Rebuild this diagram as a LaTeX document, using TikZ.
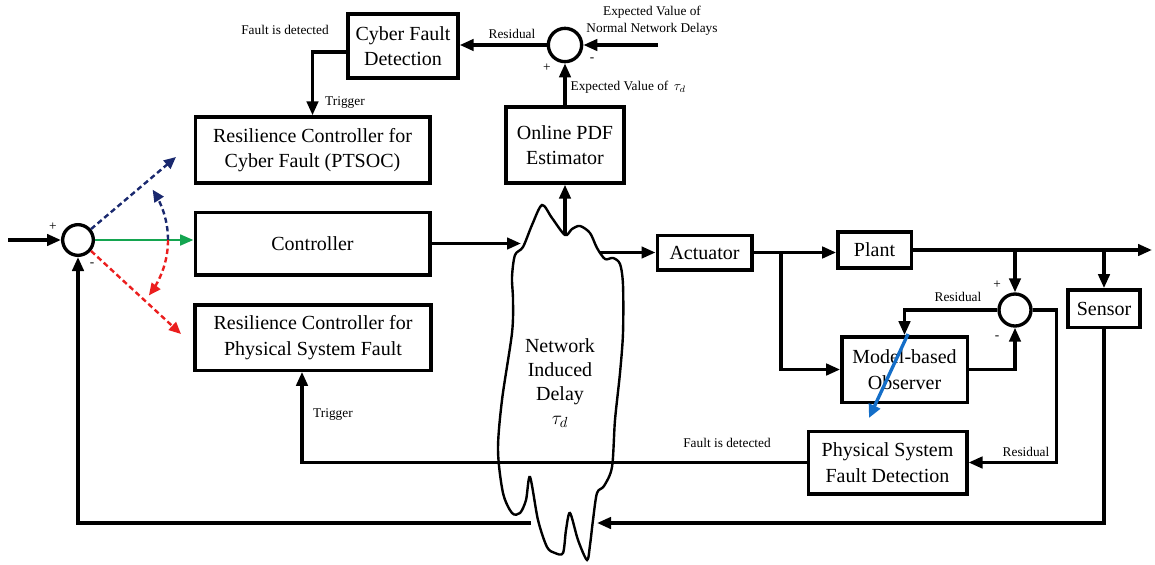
\documentclass[tikz,border=0pt]{standalone}
\usepackage{fontspec}
\setmainfont{Liberation Serif}
\usetikzlibrary{arrows.meta,calc}
\definecolor{navy}{RGB}{25,40,110}
\definecolor{redd}{RGB}{235,30,30}
\definecolor{grn}{RGB}{20,165,80}
\definecolor{obsblue}{RGB}{20,110,200}
\begin{document}
\begin{tikzpicture}[x=0.75pt,y=-0.75pt,
  blk/.style={draw,line width=2.5pt,align=center,inner sep=0pt,font=\fontsize{15}{19}\selectfont},
  sumc/.style={draw,circle,line width=2.5pt,inner sep=0pt},
  wire/.style={line width=2.5pt,-{Triangle[length=10.5pt,width=8.5pt]}},
  lbl/.style={font=\fontsize{10}{12}\selectfont,inner sep=1pt},
  sgn/.style={font=\fontsize{10}{12}\selectfont,inner sep=0pt},
  dsh/.style={line width=1.8pt,dash pattern=on 4pt off 2.5pt,-{Triangle[length=9pt,width=8pt]}}]
\useasboundingbox (0,0) rectangle (1155,564);

% boxes
\node[blk,minimum width=82.5pt,minimum height=48pt] (cfd) at (403,46) {Cyber Fault\\Detection};
\node[blk,minimum width=88.5pt,minimum height=57pt] (pdf) at (565,145) {Online PDF\\Estimator};
\node[blk,minimum width=176pt,minimum height=49.5pt] (rcc) at (312.5,150) {Resilience Controller for\\Cyber Fault (PTSOC)};
\node[blk,minimum width=176pt,minimum height=47pt] (ctrl) at (312.5,243.5) {Controller};
\node[blk,minimum width=177pt,minimum height=49pt] (rcp) at (313,337.5) {Resilience Controller for\\Physical System Fault};
\node[blk,minimum width=71pt,minimum height=26pt] (act) at (704.5,252.5) {Actuator};
\node[blk,minimum width=55pt,minimum height=27pt] (plant) at (874.5,250) {Plant};
\node[blk,minimum width=94pt,minimum height=49pt] (obs) at (904.5,369.5) {Model-based\\Observer};
\node[blk,minimum width=119pt,minimum height=47pt] (psfd) at (887.5,462.5) {Physical System\\Fault Detection};
\node[blk,minimum width=54pt,minimum height=28pt] (sensor) at (1104,308.5) {Sensor};

% summing junctions
\node[sumc,minimum size=23pt] (s1) at (78,240) {};
\node[sumc,minimum size=25pt] (s2) at (565,45) {};
\node[sumc,minimum size=24pt] (s3) at (1015,310) {};

% cloud
\draw[line width=1.8pt] plot[smooth cycle,tension=0.5] coordinates {
 (523,247) (532,225) (542,205) (552,218) (565,235) (572,229) (580,226) (590,233)
 (597,248) (605,259) (613,258) (620,264) (623,285) (623,333) (620,373) (615,420)
 (612,467) (604,486) (597,493) (593,520) (590,545) (587,560) (578,540) (570,513)
 (566,530) (563,553) (555,553) (547,547) (538,520) (530,477) (526,500) (520,513)
 (512,513) (503,493) (498,450) (502,400) (512,333) (513,300) (512,277) (515,255)};
\node[font=\fontsize{15}{18}\selectfont,align=center] (net) at (560,383) {Network\\Induced\\Delay\\$\tau_d$};

% named coordinates
\coordinate (in) at (8,240);
\coordinate (cloudL) at (521,243.5);
\coordinate (cloudT) at (565,234);
\coordinate (cloudR) at (599,252.5);
\coordinate (cloudBL) at (531,523);
\coordinate (cloudBR) at (597,523);
\coordinate (nd) at (658,45);
\coordinate (out) at (1152,250);
\coordinate (brA) at (781,252.5);
\coordinate (brP) at (1015,250);
\coordinate (brS) at (1104,250);
\coordinate (bdash) at (176,157);
\coordinate (rdash) at (181,334);
\coordinate (obsA) at (908,334);
\coordinate (obsB) at (869,418);

% top loop
\draw[wire] (nd) -- (s2.east);
\draw[wire] (pdf.north) -- (s2.south);
\draw[wire] (s2.west) -- (s2.west -| cfd.east);
\draw[wire] ($(cfd.west)+(0,6)$) -| (rcc.north);
\draw[wire] (cloudT) -- (pdf.south);

% forward path
\draw[wire] (in) -- (s1.west);
\draw[wire] (ctrl.east) -- (cloudL);
\draw[wire] (cloudR) -- (act.west);
\draw[wire] (act.east) -- (act.east -| plant.west);
\draw[wire] (brA) |- (obs.west);
\draw[wire] (plant.east) -- (out);
\draw[wire] (brP) -- (s3.north);
\draw[wire] (brS) -- (sensor.north);
\draw[wire] (s3.west) -| (obs.north);
\draw[wire] (obs.east) -| (s3.south);
\draw[wire] (s3.east) -- ++(24,0) |- (psfd.east);
\draw[wire] (psfd.west) -| ($(rcp.south)+(-11,0)$);
\draw[wire] (sensor.south) |- (cloudBR);
\draw[wire] (cloudBL) -| (s1.south);

% switching arrows
\draw[grn,line width=2pt,-{Triangle[length=10pt,width=8pt]}] (s1.east) -- (s1.east -| ctrl.west);
\draw[dsh,navy] (s1.40) -- (bdash);
\draw[dsh,redd] (s1.-40) -- (rdash);
\draw[dsh,navy] plot[domain=0:34,samples=20] ({78+90*cos(\x)},{240-90*sin(\x)});
\draw[dsh,redd] plot[domain=0:-38,samples=20] ({78+90*cos(\x)},{240-90*sin(\x)});
\draw[obsblue,line width=2.5pt,-{Triangle[length=10pt,width=9pt]}] (obsA) -- (obsB);

% labels
\node[lbl] (l1) at (285,30) {Fault is detected};
\node[lbl] (l2) at (512,34) {Residual};
\node[lbl,align=center,font=\fontsize{10}{12.5}\selectfont] (l3) at (652,21) {Expected Value of\\Normal Network Delays};
\node[lbl,anchor=west] (l4) at (569,87) {Expected Value of \,$\tau_d$};
\node[lbl] (l5) at (345,103) {Trigger};
\node[lbl] (l6) at (958,297) {Residual};
\node[lbl] (l7) at (1026,452) {Residual};
\node[lbl] (l8) at (727,443) {Fault is detected};
\node[lbl] (l9) at (333,415) {Trigger};
\node[sgn] (p1) at (53,227) {+};
\node[sgn] (m1) at (92,265) {-};
\node[sgn] (p2) at (547,68) {+};
\node[sgn] (m2) at (592,60) {-};
\node[sgn] (p3) at (997,285) {+};
\node[sgn] (m3) at (997,338) {-};
\end{tikzpicture}
\end{document}
